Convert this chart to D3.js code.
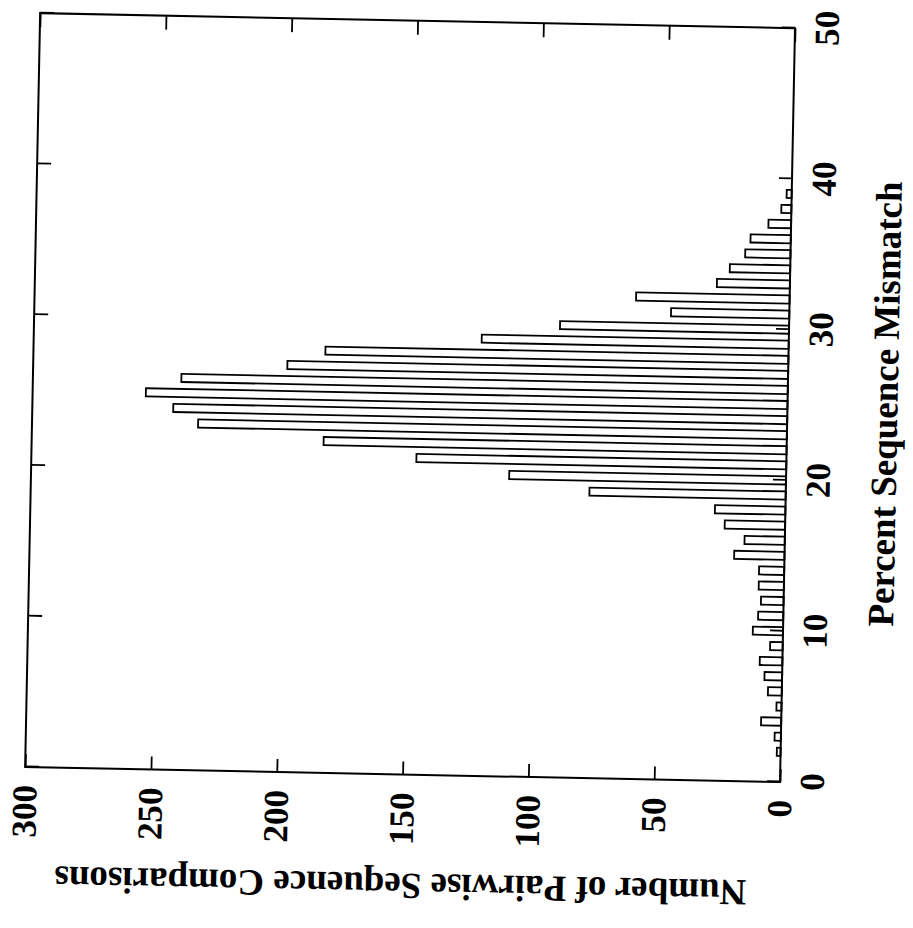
<!DOCTYPE html>
<html><head><meta charset="utf-8">
<script src="https://cdn.jsdelivr.net/npm/d3@7"></script>
<style>body{margin:0;background:#fff}</style>
</head><body>
<svg id="chart" width="913" height="928"></svg>
<script>
// ---- data ----
const mismatchBins = [0,1,2,3,4,5,6,7,8,9,10,11,12,13,14,15,16,17,18,19,20,21,22,23,24,25,26,27,28,29,30,31,32,33,34,35,36,37,38,39];
const counts = [0,0,1.5,2.5,8,2,5.5,7,9,5,12,10,9,10,10,20,16,24,28,78,110,147,184,234,244,255,241,199,184,122,91,47,61,29,24,18,16,9,4,2];
const xTickValues = [0,10,20,30,40,50];
const yTickValues = [0,50,100,150,200,250,300];
const xTitle = "Percent Sequence Mismatch";
const yTitle = "Number of Pairwise Sequence Comparisons";

// ---- layout ----
const W = 754, H = 755;
const fontFam = "'Liberation Serif','Times New Roman',serif";
const svg = d3.select("#chart");
svg.append("rect").attr("width", 913).attr("height", 928).attr("fill", "#fff");
// chart drawn in normal orientation, then rotated (page was scanned sideways, slightly tilted)
const g = svg.append("g").attr("transform", "translate(780,782) rotate(-88.86) translate(0,-755)");

const x = d3.scaleLinear().domain([0, 50]).range([0, W]);
const y = d3.scaleLinear().domain([0, 300]).range([H, 0]);

const data = mismatchBins.map((m, i) => ({ m, v: counts[i] })).filter(d => d.v > 0);
const halfW = 0.27;
g.selectAll("rect.bar").data(data).join("rect")
  .attr("class", "bar")
  .attr("x", d => x(d.m - halfW))
  .attr("width", x(2 * halfW) - x(0))
  .attr("y", d => y(d.v))
  .attr("height", d => H - y(d.v))
  .attr("fill", "#fff")
  .attr("stroke", "#000")
  .attr("stroke-width", 1.8);

// frame
g.append("rect").attr("x", 0).attr("y", 0).attr("width", W).attr("height", H)
  .attr("fill", "none").attr("stroke", "#000").attr("stroke-width", 2);

function styleAxis(sel) {
  sel.select(".domain").remove();
  sel.attr("font-size", 35).attr("font-family", fontFam).attr("font-weight", "bold");
  sel.selectAll("line").attr("stroke", "#000").attr("stroke-width", 1.8);
  sel.selectAll("text").attr("fill", "#000");
}

g.append("g").attr("transform", `translate(0,${H})`)
  .call(d3.axisBottom(x).tickValues(xTickValues).tickSizeInner(-13).tickSizeOuter(0).tickPadding(19))
  .call(styleAxis);
g.append("g")
  .call(d3.axisTop(x).tickValues(xTickValues).tickSizeInner(-14).tickSizeOuter(0).tickFormat(""))
  .call(styleAxis);
g.append("g")
  .call(d3.axisLeft(y).tickValues(yTickValues).tickSizeInner(-13).tickSizeOuter(0).tickPadding(18))
  .call(styleAxis);
g.append("g").attr("transform", `translate(${W},0)`)
  .call(d3.axisRight(y).tickValues(yTickValues).tickSizeInner(-14).tickSizeOuter(0).tickFormat(""))
  .call(styleAxis);

// titles
g.append("text").attr("x", W / 2 + 3).attr("y", H + 110)
  .attr("text-anchor", "middle").attr("font-family", fontFam).attr("font-weight", "bold")
  .attr("font-size", 37).attr("fill", "#000").text(xTitle);
g.append("text").attr("transform", `translate(-99,${H / 2}) rotate(-90)`)
  .attr("text-anchor", "middle").attr("font-family", fontFam).attr("font-weight", "bold")
  .attr("font-size", 37).attr("fill", "#000").text(yTitle);
</script>
</body></html>
